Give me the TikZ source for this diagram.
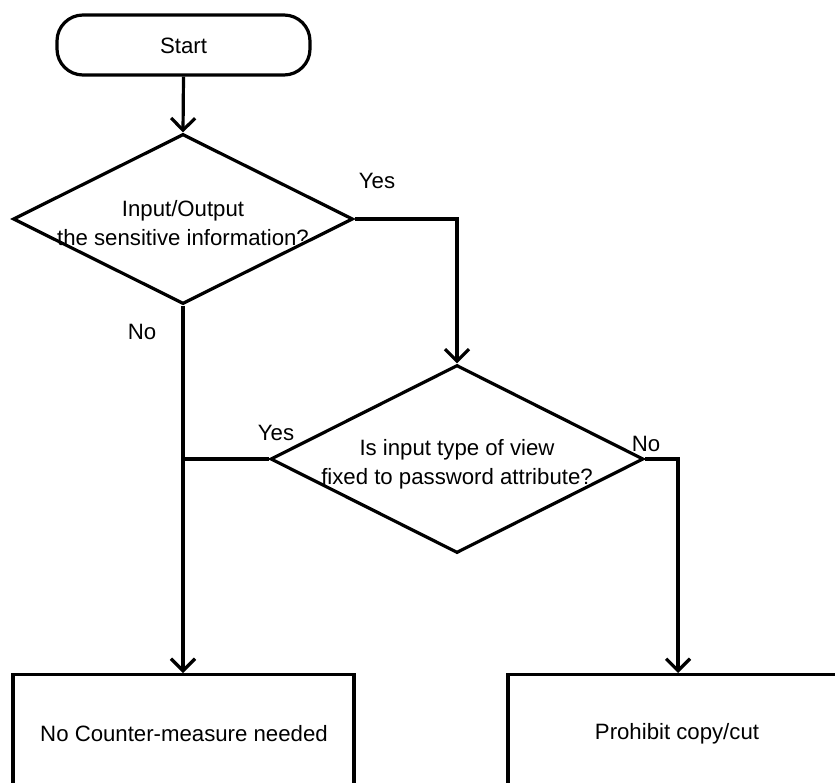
\documentclass[tikz,border=0pt]{standalone}
\usepackage{fontspec}
\setmainfont{Liberation Sans}
\usetikzlibrary{arrows.meta,shapes.geometric}
\begin{document}
\begin{tikzpicture}[x=1pt,y=-1pt,
  line width=3.2pt,
  every node/.style={font=\fontsize{22.2}{29}\selectfont},
  arr/.style={-{Straight Barb[length=12pt,width=24pt,line width=3.2pt]}},
  startbox/.style={draw,rectangle,rounded corners=26pt,minimum width=253pt,minimum height=60pt,inner sep=0pt},
  decision/.style={draw,diamond,inner sep=0pt},
  procbox/.style={draw,rectangle,inner sep=0pt},
  lbl/.style={inner sep=0pt,align=center},
  ]
\useasboundingbox (0,0) rectangle (835,783);
\clip (0,0) rectangle (835,783);
\node[startbox] (start) at (183.5,45) {};
\node[lbl] (starttext) at (183.5,46) {Start};
\node[decision,minimum width=340pt,minimum height=170pt] (d1) at (183,219) {};
\node[lbl] (d1text) at (183,223) {Input/Output\\the sensitive information?};
\node[decision,minimum width=373pt,minimum height=188pt] (d2) at (457,459) {};
\node[lbl] (d2text) at (457,464) {Is input type of view\\fixed to password attribute?};
\node[procbox,minimum width=341pt,minimum height=140pt,anchor=north] (b1) at (183.5,673) {};
\node[lbl] (b1text) at (184,734) {No Counter-measure needed};
\node[procbox,minimum width=340pt,minimum height=140pt,anchor=north] (b2) at (678,673) {};
\node[lbl] (b2text) at (677,734) {Prohibit copy/cut};
\node[lbl] (yes1) at (377,181) {Yes};
\node[lbl] (no1) at (142,332) {No};
\node[lbl] (yes2) at (276,433) {Yes};
\node[lbl] (no2) at (646,444) {No};
\coordinate (j) at (d1.south |- d2.west);
\draw[arr] (start.south) -- (d1.north);
\draw[arr] (d1.east) -| (d2.north);
\draw[arr] (d1.south) -- (d1.south |- b1.north);
\draw (d2.west) -- (j);
\draw[arr] (d2.east) -| (d2.east -| b2.north) -- (b2.north);
\end{tikzpicture}
\end{document}
